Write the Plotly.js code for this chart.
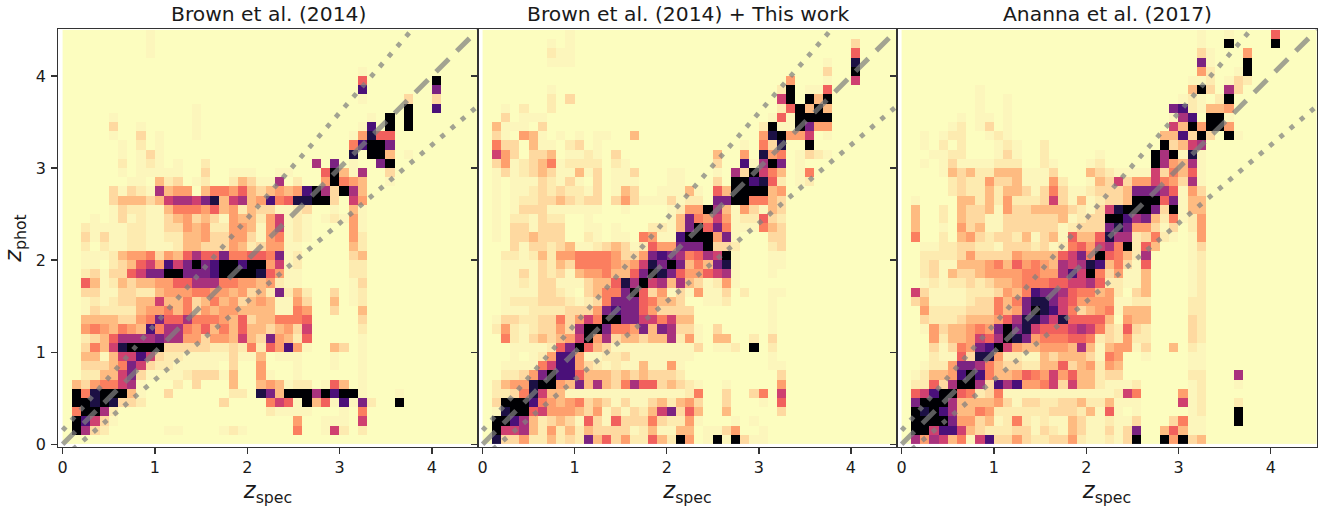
<!DOCTYPE html>
<html><head><meta charset="utf-8">
<script src="https://cdn.plot.ly/plotly-3.0.1.min.js"></script>
<style>html,body{margin:0;padding:0;background:#fff}</style></head>
<body><div id="chart" style="width:1325px;height:510px"></div>
<script>
// Estimated colour level (hex digit, 0 = empty ... d = densest) per 0.1 x 0.1 bin,
// top row is z_phot 4.4-4.5, bottom row 0-0.1; left column z_spec 0-0.1. Missing tail = 0.
const panelTitles = ["Brown et al. (2014)", "Brown et al. (2014) + This work", "Ananna et al. (2017)"];
const tickValues = [0, 1, 2, 3, 4];
const levelColors = ["#fcfdbf","#fcf6bc","#fdebb0","#fed9a0","#febb81","#fe9f6d","#fb7e5f","#f1605d","#cf4070","#a8327d","#7b2382","#4a1079","#1c1044","#000004"];

const brownLevels = [
"00000 00001","00000 00001","00000 00001","",
"00000 00000 00000 00000 00000 00000 00100",
"00000 00000 00000 00000 00000 00000 00700 00000 d",
"00000 00000 00000 00000 00000 00000 00b00 00000 a",
"00000 00000 00000 00000 00000 00000 00100 00300 3",
"00000 00000 00001 00000 00000 00000 00000 00d00 b",
"00000 10000 00001 00000 00000 00000 00010 d0d00",
"00000 30010 00001 00000 00000 00000 001b0 d0d00",
"00000 10030 10001 00000 00000 00000 015c7 70000",
"00000 01020 10000 00000 00000 00000 06bdd a",
"00000 01013 10000 00000 00000 00000 0c0dd 40100",
"00000 02012 10100 20000 00000 0090a 0100a d",
"00000 01011 11100 30011 10011 0007d 41900 3",
"00000 00110 42301 20024 31190 2005d 65400 1",
"00000 31321 94550 46657 43454 5bd93 d94",
"00000 34443 48998 ac489 45b67 ccdd3 085",
"00000 13221 14666 57452 43311 23001 041",
"00010 13121 13453 43154 42581 21012 151",
"00211 11221 13354 52255 41581 21000 051",
"00313 11221 12244 53355 31561 21000 052",
"00202 11221 11244 33354 23551 10000 042",
"00111 24556 35479 77a66 776a1 20000 034",
"00110 23478 5b8ad abddb dd581 20000 022",
"00231 3378a addaa abddd dc751 10000 022",
"00741 24344 55779 99665 54521 10000 013",
"00331 13322 45556 65545 342a2 42003 012",
"00121 23344 84463 46453 45411 53004 012",
"00132 22245 56463 54554 44411 65003 004",
"00444 43356 a7796 66547 34466 67000 003",
"00565 4654b 69965 74647 44345 38000 002",
"00234 79999 a9955 35548 43a54 27000 001",
"00364 8cddd d3333 32232 6275b 51004 30100",
"00441 488b8 32211 11131 14011 10001 00100",
"00333 46a83 22111 11030 05000 10001 00100",
"00224 48a31 11123 33140 05100 10000 00100",
"04356 68910 00203 00040 04541 22017 40100",
"0d6cd dd410 03000 00022 0ca4d dd9db dd100 01000",
"0ddcd c3320 00000 00300 00687 1d471 b1a20 0d000",
"06dd9 20000 00000 00000 00211 11000 10600",
"0db83 10000 00000 00000 00000 50011 10800",
"0d932 00000 01100 00121 00000 60018 20200",
""];

const thisWorkLevels = [
"00000 00001",
"00000 00101 00000 00000 00000 00000 00000 00000 3",
"00000 00211 00000 00000 00000 00000 00000 00000 7",
"00000 00111 00000 00000 00000 00000 00000 00100 c",
"00000 00000 00000 00000 00000 00000 00000 00300 d",
"00000 00000 00000 00000 00000 00000 00050 00100 8",
"00000 00100 00000 00000 00000 00000 002d0 11700",
"00000 00203 00000 00000 00000 00000 008d0 d4d00",
"00102 00200 00000 00000 00000 00000 0027d 4d400",
"00301 11000 00000 00000 00000 00000 0171d ddd00",
"04111 03000 00000 00000 00000 00000 2d11d a5500",
"03105 41010 10110 04000 00000 00000 5cd55 80100",
"06330 41102 30100 00000 00000 00010 63c00 d",
"08530 33401 12103 00000 00000 40050 c5601 32100",
"03512 34612 22202 10000 00000 300b1 9da01",
"01312 34311 41301 13000 11000 1093d 86401 6",
"01011 13213 10301 11000 11000 30ddb c7201 2",
"01011 23232 21301 43001 11410 74ddd d45",
"01012 23343 23303 53111 31220 aadd6 643",
"01013 33111 11100 10000 1255d 94153 143",
"01022 13220 01000 00000 14a65 85122 732",
"01033 13330 01101 00022 14ad7 a6111 643",
"01033 43330 02101 10651 1bddd 5a100 033",
"00031 33234 11234 31275 5aaad 33200 023",
"00221 24255 66665 335ab a9679 8d100 011",
"00111 13243 66665 458ca da464 ac100 011",
"00113 13231 45564 47adc a7557 89100 01",
"00112 13311 13447 c9d89 49431 25100",
"00111 13321 03466 ad735 13151 13020 011",
"00122 23332 1236a aa764 43001 12000 01000",
"00111 22223 335ab aa753 33300 00000 01000",
"01332 23363 586dd aa886 84400 00000 01000",
"02521 23353 9dda6 65a4a 93310 30000 01000",
"00621 34345 8d593 44344 92510 44002 03000",
"00011 1127a d7431 11111 11130 1120d 02000",
"00010 125bb 51122 31111 11100 00000 01000",
"00111 168bb 53212 11411 51000 00000 01100",
"00223 5adbb 74443 43433 32000 00000 00300",
"02455 cdd54 a4943 69773 43210 01000 00500",
"02236 c8441 11111 11111 11260 03003 60800",
"03ddd b6545 63431 31134 24530 03000 10700",
"01cdd 78555 43513 13248 a3740 04000 00300",
"0ddb9 42343 17317 33363 22510 00101",
"0d889 42524 24333 31241 14401 13500 1",
"0c335 22423 2a473 52274 2d501 d1d31 1"];

const anannaLevels = [
"00000 00000 00000 00000 00000 00000 00100 10000 7",
"00000 00000 00000 00000 00000 00000 00100 d0000 d",
"00000 00000 00000 00000 00000 00000 00310 00500",
"00000 00000 00000 00000 00000 00000 00a10 00d00",
"00000 00000 00000 00000 00000 00000 00520 01d00",
"00000 00000 00000 00000 00000 00000 01120 13200",
"00000 00010 00000 00000 00000 00000 04d30 93000",
"00000 00010 01000 00000 00000 00000 12102 d0000",
"00000 00010 01000 00000 00000 0000a b2144 5",
"00000 01011 01000 00000 00000 00001 9b0dd 1",
"00000 12013 01000 00000 00000 00008 4d5dd 5",
"00101 22001 21000 00000 00000 00044 b3d30 d1",
"00102 02000 12100 20000 00000 000d3 48900",
"00011 22000 13100 20000 01000 00d9d 1c100",
"00101 31111 22200 21000 12000 00d95 49100",
"00001 43422 44411 13000 43211 11836 47100",
"00000 23225 33411 15200 14383 55865 39100",
"00000 23224 24431 36311 23334 aaa97 15300",
"01000 04424 25222 38314 12334 ddd7a 14400",
"04002 04334 15334 44432 138cd dda3d 14400",
"04002 04331 13333 33412 33ddb 9a426 12500",
"04001 05341 13333 33123 33aca 55313 02500",
"06002 04532 33241 34174 47c99 23621 01500",
"00112 23322 13332 31267 5896d 27400 01300",
"00222 23533 33544 4478a 6d764 29000 01200",
"00231 14445 64756 54989 cb463 17000 01200",
"00231 43345 55566 559b8 d6351 14000 01200",
"00121 22323 44566 67788 97221 14000 01200",
"08311 11222 3546b aa976 64520 34000 01200",
"03411 11233 646ac ca875 55511 22000 02200",
"00522 22333 645ad cb863 45614 44000 02200",
"00322 23444 579cc a8c77 77405 44000 03200",
"00153 44565 adac8 77789 86327 32000 03200",
"00052 44587 9dca5 66677 62325 22000 03200",
"00031 365ab d8544 55549 41455 13004 02100",
"00021 173cc 52211 43444 31650 01000 01100",
"00122 5aa96 43322 44734 52540 00000 01100",
"01244 5bdb6 44576 58574 42330 00000 02200 09000",
"02273 9dd93 b9b55 68384 42111 20000 01200 01000",
"078bd d7623 61111 11111 11128 60000 51200",
"0addd 94444 53133 22334 22411 10000 81200 02000",
"0dcdb 94465 22222 23332 41710 10000 01200 0d000",
"0dddd a5534 12621 21143 11211 30003 61100 0d000",
"0dd8b b8432 22331 32143 11313 a0047 41100",
"09598 4618b 33532 23352 11213 d00d5 d3400"];

const panels = [brownLevels, thisWorkLevels, anannaLevels];
const W = 1325, H = 510;
const panelEdges = [[58,478],[478,897],[897,1317]];
const plotTop = 29, plotBottom = 447;
const colorscale = levelColors.map((c,i)=>[i/(levelColors.length-1), c]);
const toGrid = rows => rows.slice().reverse().map(r => {
  const s = r.replace(/ /g,'').padEnd(45,'0');
  return Array.from(s).map(ch => parseInt(ch,16));
});
const lineX = [0, 4.5];
const oneToOne = lineX.map(x => x);
const upper = lineX.map(x => x + 0.15*(1+x));
const lower = lineX.map(x => x - 0.15*(1+x));
const data = [], layout = {
  width: W, height: H, autosize:false, showlegend:false,
  margin:{l:0,r:0,t:0,b:0,pad:0}, paper_bgcolor:'#fff', plot_bgcolor:'#fff',
  font:{family:'DejaVu Sans', color:'#1a1a1a', size:15}, annotations:[]
};
panels.forEach((rows,i)=>{
  const n = i===0 ? '' : String(i+1);
  const xa = 'x'+n, ya = 'y'+n;
  data.push({type:'heatmap', z:toGrid(rows), x0:0.05, dx:0.1, y0:0.05, dy:0.1, xaxis:xa, yaxis:ya,
    zmin:0, zmax:levelColors.length-1, colorscale, showscale:false, hoverinfo:'skip', zsmooth:false});
  const addLine=(y,dash,width)=>data.push({type:'scatter',mode:'lines',x:lineX,y,xaxis:xa,yaxis:ya,hoverinfo:'skip',
    line:{color:'rgba(128,128,128,0.72)',width,dash}});
  addLine(oneToOne,'18px,11.3px',5);
  addLine(upper,'4.8px,8.6px',4.8);
  addLine(lower,'4.8px,8.6px',4.8);
  const common = {ticks:'outside', ticklen:5.5, tickwidth:1.3, tickcolor:'#333', showline:true, linecolor:'#333', linewidth:1.4,
    mirror:true, showgrid:false, zeroline:false, tickvals:tickValues,
    tickfont:{size:16,family:'DejaVu Sans',color:'#1a1a1a'}};
  layout['xaxis'+n] = {...common, ticklabelstandoff:0, domain:[panelEdges[i][0]/W, panelEdges[i][1]/W], range:[-0.05,4.5], anchor:ya,
    title:{text:'<i>z</i><sub>spec</sub>', font:{size:22.5,family:'DejaVu Sans'}, standoff:5}};
  layout['yaxis'+n] = {...common, ticklabelstandoff:2, domain:[1-plotBottom/H, 1-plotTop/H], range:[-0.03,4.51], anchor:xa,
    showticklabels:i===0,
    title: i===0 ? {text:'<i>z</i><sub>phot</sub>', font:{size:22.5,family:'DejaVu Sans'}, standoff:8} : undefined};
  layout.annotations.push({text:panelTitles[i], xref:'paper', yref:'paper',
    x:(panelEdges[i][0]+panelEdges[i][1])/2/W, y:1-13.5/H, xanchor:'center', yanchor:'middle', showarrow:false,
    font:{size:20.3,family:'DejaVu Sans',color:'#1a1a1a'}});
});
Plotly.newPlot('chart', data, layout, {displayModeBar:false, staticPlot:true});
</script></body></html>
